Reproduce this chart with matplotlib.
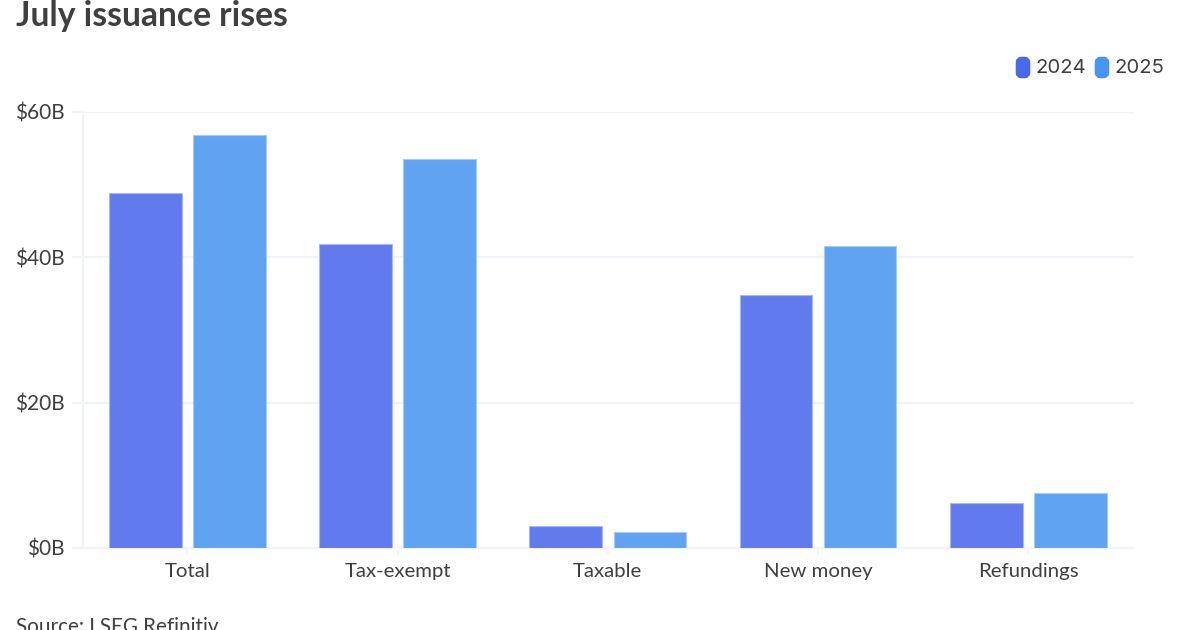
"""
July issuance chart: grouped bars, 2024 vs 2025
"""
import numpy as np
import matplotlib
matplotlib.use('Agg')
import matplotlib.pyplot as plt
from matplotlib.patches import FancyBboxPatch

categories = ['Total', 'Tax-exempt', 'Taxable', 'New money', 'Refundings']
values_2024 = [48.9, 41.8, 3.0, 34.8, 6.2]
values_2025 = [56.8, 53.5, 2.2, 41.6, 7.6]
y_ticks = [0, 20, 40, 60]
y_labels = ['$0B', '$20B', '$40B', '$60B']

TEXT = '#3f3f3f'
GRID = '#f0f3f8'
COLOR_2024 = '#617bee'
COLOR_2025 = '#60a3f2'

W, H = 1200, 630
plt.rcParams['font.family'] = ['Lato', 'DejaVu Sans']

fig = plt.figure(figsize=(W / 100, H / 100), dpi=100, facecolor='white')
ax = fig.add_axes([83 / W, 1 - 548 / H, (1134 - 83) / W, (548 - 112) / H])

x = np.arange(len(categories))
ax.bar(x - 0.2, values_2024, width=0.346, color=COLOR_2024, edgecolor='#a9b8f5', linewidth=0.8, zorder=3)
ax.bar(x + 0.2, values_2025, width=0.346, color=COLOR_2025, edgecolor='#a5cbf7', linewidth=0.8, zorder=3)

# small shift so the bars land on the same pixels as the reference
ax.set_xlim(-0.497, len(categories) - 0.497)
ax.set_ylim(0, 60)
ax.set_yticks(y_ticks)
ax.set_yticklabels(y_labels)
ax.set_xticks(x)
ax.set_xticklabels(categories)
ax.grid(True, axis='y', color=GRID, linewidth=1.5, zorder=0)
ax.set_axisbelow(True)
ax.tick_params(axis='y', length=8, width=1.5, color=GRID, labelsize=15, labelcolor=TEXT, pad=5)
ax.tick_params(axis='x', length=4, width=1.5, color=GRID, labelsize=14.7, labelcolor=TEXT, pad=6.5)

for side in ['top', 'right']:
    ax.spines[side].set_visible(False)
for side in ['left', 'bottom']:
    ax.spines[side].set_color(GRID)
    ax.spines[side].set_linewidth(1.5)

# Title and source sit right at the image edges, the source is cut off
fig.text(16 / W, 1 - 16 / H, 'July issuance rises', fontsize=24.2, fontweight='bold',
         color=TEXT, va='center', ha='left')
fig.text(16 / W, 1 - 627 / H, 'Source: LSEG Refinitiv', fontsize=14.9, color=TEXT,
         va='center', ha='left')

# Legend drawn by hand for the rounded swatches
bg = fig.add_axes([0, 0, 1, 1], facecolor='none')
bg.set_xlim(0, W)
bg.set_ylim(H, 0)
bg.axis('off')
for x0, color, label in [(1016, '#4a68ee', '2024'), (1095, '#4796f5', '2025')]:
    bg.add_patch(FancyBboxPatch((x0 + 2.5, 59.5), 9, 16, boxstyle='round,pad=0,rounding_size=3',
                                mutation_aspect=1, facecolor=color, edgecolor=color, linewidth=4))
    bg.text(x0 + 19.5, 68, label, fontsize=14.6, color=TEXT, va='center', ha='left', family=['Inter', 'DejaVu Sans'])

fig.savefig('out.png', dpi=100)
plt.close(fig)
